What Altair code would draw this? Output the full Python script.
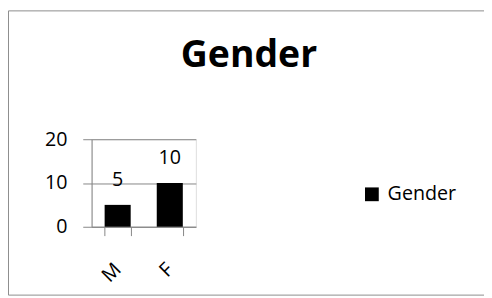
import altair as alt
import pandas as pd

categories = ["M", "F"]
values = [5, 10]
series_name = "Gender"
y_ticks = [0, 10, 20]

df = pd.DataFrame({"cat": categories, "val": values, "series": [series_name] * len(categories)})
frame = pd.DataFrame({"k": [0]})

FONT = "Open Sans"
GRAY = "#868686"

x_enc = alt.X(
    "cat:N",
    sort=categories,
    title=None,
    scale=alt.Scale(paddingInner=0.5, paddingOuter=0.25),
    axis=alt.Axis(
        labelAngle=-45,
        labelAlign="right",
        labelBaseline="middle",
        labelFontSize=20,
        labelFont=FONT,
        labelColor="black",
        labelPadding=31,
        tickBand="extent",
        tickSize=9,
        tickColor=GRAY,
        domainColor=GRAY,
        grid=False,
    ),
)
y_enc = alt.Y(
    "val:Q",
    title=None,
    scale=alt.Scale(domain=[0, 20]),
    axis=alt.Axis(
        values=y_ticks,
        labelFontSize=20,
        labelFont=FONT,
        labelColor="black",
        labelPadding=16,
        tickSize=9,
        tickColor=GRAY,
        domainColor=GRAY,
        gridColor=GRAY,
        grid=True,
    ),
)

bars = alt.Chart(df).mark_bar(color="black").encode(
    x=x_enc,
    y=y_enc,
    color=alt.Color(
        "series:N",
        scale=alt.Scale(range=["black"]),
        legend=alt.Legend(
            title=None,
            orient="none",
            legendX=275,
            legendY=46,
            symbolType="square",
            symbolSize=196,
            symbolStrokeWidth=0,
            labelFontSize=20,
            labelFont=FONT,
            labelColor="black",
            labelOffset=6,
        ),
    ),
)

labels = alt.Chart(df).mark_text(
    fontSize=20, font=FONT, color="black", baseline="alphabetic", dy=-19
).encode(x=alt.X("cat:N", sort=categories), y=alt.Y("val:Q"), text="val:Q")

border_left = alt.Chart(frame).mark_rule(color="#8c8c8c").encode(
    x=alt.value(-84.5), y=alt.value(-130.5), y2=alt.value(158.5)
)
border_top = alt.Chart(frame).mark_rule(color="#8c8c8c").encode(
    x=alt.value(-84.5), x2=alt.value(400), y=alt.value(-130.5)
)
border_bottom = alt.Chart(frame).mark_rule(color="#8c8c8c").encode(
    x=alt.value(-84.5), x2=alt.value(400), y=alt.value(158.5)
)

chart = (
    alt.layer(bars, labels, border_left, border_top, border_bottom)
    .properties(
        width=106,
        height=89,
        autosize=alt.AutoSizeParams(type="none"),
        padding={"left": 85, "top": 131, "right": 293, "bottom": 70},
        title=alt.TitleParams(
            text="Gender",
            font=FONT,
            fontSize=38,
            fontWeight="bold",
            color="black",
            anchor="middle",
            dx=107,
            dy=36,
            offset=-60,
            baseline="alphabetic",
        ),
    )
    .configure_view(stroke=None)
    .configure(background="white")
)

chart.save("out.html", embed_options={"renderer": "svg", "actions": False})
